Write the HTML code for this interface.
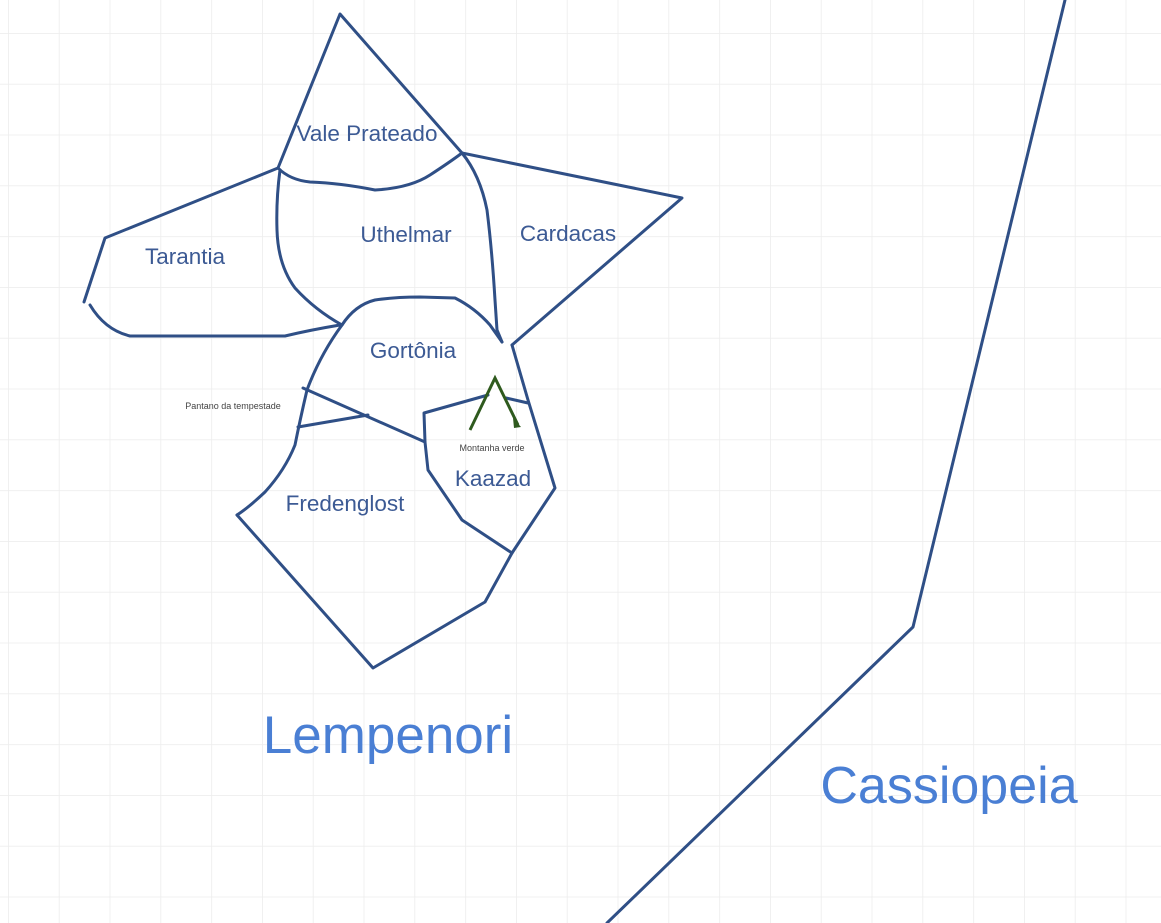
<!DOCTYPE html>
<html><head><meta charset="utf-8"><style>
html,body{margin:0;padding:0;background:#fff}
svg{display:block}
text{font-family:"Liberation Sans",sans-serif}
</style></head><body>
<svg width="1161" height="923" viewBox="0 0 1161 923" xmlns="http://www.w3.org/2000/svg">
<defs>
<pattern id="g" x="8" y="33" width="50.8" height="50.8" patternUnits="userSpaceOnUse">
<path d="M0 0H50.8M0 0V50.8" stroke="#ececec" stroke-width="1.5" fill="none"/>
</pattern>
</defs>
<rect width="1161" height="923" fill="url(#g)"/>
<g fill="none" stroke="#2f4f86" stroke-width="3" stroke-linejoin="round" stroke-linecap="round">
<path d="M278 168 L340 14 L462 153"/>
<path d="M278 168 Q290 180 310 182 Q340 183 375 190 Q410 188 430 175 Q450 162 462 153"/>
<path d="M278 168 L105 238 L84 302"/>
<path d="M90 305 Q105 330 130 336 L285 336 Q310 330 340 325"/>
<path d="M280 170 Q276 200 277 230 Q278 265 295 288 Q315 310 342 325"/>
<path d="M462 153 Q480 175 487 210 Q492 250 495 300 L497 330 L502 342"/>
<path d="M462 153 L682 198 L512 345"/>
<path d="M342 325 Q355 305 375 300 Q395 297 420 297 L455 298 Q475 308 490 325 L502 342"/>
<path d="M342 325 Q320 355 307 390 Q300 420 295 445 Q285 470 265 492 Q248 508 237 515"/>
<path d="M512 345 L528 400 L555 488 L512 553 L485 602 L373 668 L237 515"/>
<path d="M303 388 L425 442"/>
<path d="M298 427 L368 415"/>
<path d="M425 442 L424 413 L488 395"/>
<path d="M506 398 L528 403"/>
<path d="M425 442 L428 470 L462 520 L512 553"/>
<path d="M1065 0 L913 627 L607 923"/>
</g>
<path d="M470 430 L495 378 L518 425" fill="none" stroke="#2f5a1e" stroke-width="3"/>
<path d="M513 418 L521 427 L514 428Z" fill="#2f5a1e"/>
<g fill="#3c5a94" font-size="22.5" text-anchor="middle">
<text x="367" y="141">Vale Prateado</text>
<text x="406" y="242">Uthelmar</text>
<text x="568" y="241">Cardacas</text>
<text x="185" y="264">Tarantia</text>
<text x="413" y="358">Gortônia</text>
<text x="493" y="486">Kaazad</text>
<text x="345" y="511">Fredenglost</text>
</g>
<g fill="#444" font-size="9" text-anchor="middle">
<text x="233" y="409">Pantano da tempestade</text>
<text x="492" y="451">Montanha verde</text>
</g>
<text x="388" y="753" font-size="53" fill="#4a7fd4" text-anchor="middle">Lempenori</text>
<text x="949" y="803" font-size="52" fill="#4a7fd4" text-anchor="middle">Cassiopeia</text>
</svg>
</body></html>
